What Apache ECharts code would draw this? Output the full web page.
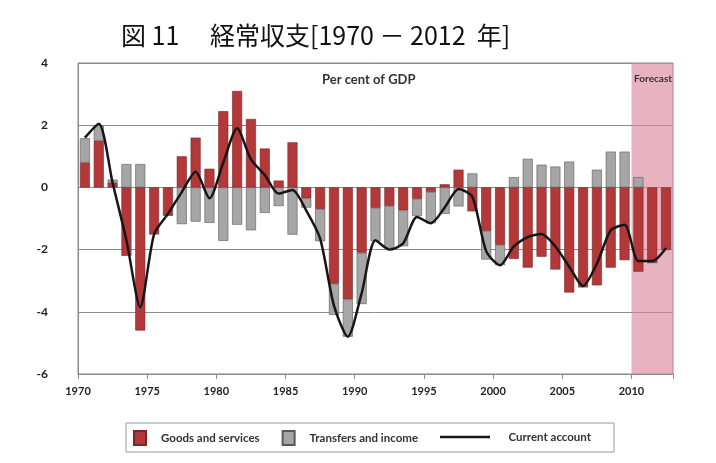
<!DOCTYPE html>
<html>
<head>
<meta charset="utf-8">
<script src="https://cdn.jsdelivr.net/npm/echarts@6/dist/echarts.min.js"></script>
<style>
  html, body { margin: 0; padding: 0; background: #fff; }
  #chart { width: 716px; height: 463px; }
</style>
</head>
<body>
<div id="chart"></div>
<script>
// years 1970-2012, per cent of GDP
const years = ['1970', '1971', '1972', '1973', '1974', '1975', '1976', '1977', '1978', '1979',
  '1980', '1981', '1982', '1983', '1984', '1985', '1986', '1987', '1988', '1989',
  '1990', '1991', '1992', '1993', '1994', '1995', '1996', '1997', '1998', '1999',
  '2000', '2001', '2002', '2003', '2004', '2005', '2006', '2007', '2008', '2009',
  '2010', '2011', '2012'];

const goodsServices = [0.8, 1.5, 0.15, -2.2, -4.6, -1.5, -0.9, 1.0, 1.6, 0.6,
  2.45, 3.1, 2.2, 1.25, 0.22, 1.45, -0.35, -0.7, -3.1, -3.6,
  -2.1, -0.66, -0.6, -0.74, -0.37, -0.15, 0.1, 0.57, -0.77, -1.4,
  -1.85, -2.3, -2.58, -2.23, -2.64, -3.38, -3.2, -3.15, -2.58, -2.34,
  -2.71, -2.42, -2.0];

const transfersIncome = [0.78, 0.5, 0.1, 0.75, 0.75, 0, 0, -1.18, -1.1, -1.14,
  -1.72, -1.2, -1.38, -0.82, -0.6, -1.52, -0.3, -1.03, -1.0, -1.2,
  -1.65, -1.07, -1.35, -1.15, -0.55, -1.0, -0.85, -0.61, 0.45, -0.92,
  -0.65, 0.33, 0.92, 0.73, 0.67, 0.83, 0, 0.57, 1.15, 1.15,
  0.33, 0, 0];

const currentAccount = [1.6, 2.05, 0.15, -1.7, -3.85, -1.5, -0.85, -0.15, 0.5, -0.35,
  0.8, 1.9, 0.9, 0.4, -0.2, -0.08, -0.75, -1.65, -3.8, -4.8,
  -3.4, -1.7, -2.0, -1.8, -0.95, -1.15, -0.65, -0.05, -0.3, -2.05,
  -2.5, -1.9, -1.6, -1.5, -1.9, -2.55, -3.17, -2.45, -1.38, -1.2,
  -2.37, -2.37, -1.95];

const yTicks = [-6, -4, -2, 0, 2, 4];
const forecastFrom = 2010;

const chart = echarts.init(document.getElementById('chart'));
const font = 'Lato, "Open Sans", sans-serif';
const axisGrey = '#8a8a8a';

const option = {
  backgroundColor: '#fff',
  animation: false,
  title: {
    text: '図 11　 経常収支[1970 － 2012  年]',
    left: 121,
    top: 23,
    padding: 0,
    textStyle: {
      fontFamily: '"Noto Sans CJK JP", sans-serif',
      fontSize: 25,
      fontWeight: 'normal',
      color: '#111',
    },
  },
  grid: {
    left: 78,
    right: 43,
    top: 63,
    bottom: 89,
    show: true,
    borderColor: axisGrey,
    borderWidth: 1,
  },
  legend: [
    {
      data: [
        { name: 'Goods and services', icon: 'rect' },
        { name: 'Transfers and income', icon: 'rect' },
      ],
      left: 128,
      top: 425,
      itemWidth: 12,
      itemHeight: 14,
      itemGap: 22,
      selectedMode: false,
      textStyle: { fontFamily: font, fontWeight: 'bold', fontSize: 11.5, color: '#333', padding: [0, 0, 0, 10] },
    },
    {
      data: [{ name: 'Current account', icon: 'path://M0,0H60V3H0Z' }],
      left: 435,
      top: 426,
      itemWidth: 57,
      itemHeight: 2.5,
      selectedMode: false,
      textStyle: { fontFamily: font, fontWeight: 'bold', fontSize: 11.5, color: '#333', padding: [0, 0, 0, 10] },
    },
  ],
  xAxis: [
    {
      // one slot per year, carries the marks
      type: 'category',
      data: years,
      boundaryGap: true,
      show: false,
    },
    {
      // year scale for ticks, labels and the forecast band
      type: 'value',
      min: 1970,
      max: 2013,
      interval: 5,
      position: 'bottom',
      axisLine: { show: true, lineStyle: { color: axisGrey, width: 1 } },
      axisTick: { show: true, length: 5, lineStyle: { color: axisGrey } },
      splitLine: { show: false },
      axisLabel: {
        margin: 12,
        fontFamily: font,
        fontWeight: 'bold',
        fontSize: 11,
        color: '#222',
        formatter: (v) => (v % 5 === 0 ? String(v) : ''),
      },
    },
  ],
  yAxis: {
    type: 'value',
    min: yTicks[0],
    max: yTicks[yTicks.length - 1],
    interval: 2,
    axisLine: { show: true, lineStyle: { color: axisGrey, width: 1 } },
    axisTick: { show: false },
    splitLine: { show: true, lineStyle: { color: '#8c8c8c', width: 1 } },
    axisLabel: {
      margin: 30,
      fontFamily: font,
      fontWeight: 'bold',
      fontSize: 12,
      color: '#222',
    },
  },
  series: [
    {
      name: 'forecast',
      type: 'line',
      xAxisIndex: 1,
      data: [],
      z: 1,
      silent: true,
      markArea: {
        silent: true,
        itemStyle: { color: 'rgba(220, 135, 158, 0.64)' },
        data: [[{ xAxis: forecastFrom }, { xAxis: 2013 }]],
      },
    },
    {
      name: 'Goods and services',
      type: 'bar',
      stack: 'ca',
      barWidth: 10,
      data: goodsServices,
      itemStyle: { color: '#b3383a', borderColor: '#7d2527', borderWidth: 0.6 },
      z: 2,
    },
    {
      name: 'Transfers and income',
      type: 'bar',
      stack: 'ca',
      barWidth: 10,
      data: transfersIncome,
      itemStyle: { color: '#a6a6a6', borderColor: '#5a5a5a', borderWidth: 0.6 },
      z: 2,
    },
    {
      name: 'Current account',
      type: 'line',
      data: currentAccount,
      symbol: 'none',
      smooth: 0.25,
      lineStyle: { color: '#161616', width: 2.5 },
      itemStyle: { color: '#161616' },
      z: 5,
    },
  ],
  graphic: [
    {
      type: 'rect',
      shape: { x: 126, y: 423, width: 488, height: 29 },
      style: { fill: 'none', stroke: '#9a9a9a', lineWidth: 1 },
      z: 0,
    },
    {
      type: 'text',
      left: 322,
      top: 73,
      style: { text: 'Per cent of GDP', fontFamily: font, fontWeight: 'bold', fontSize: 13, fill: '#333' },
    },
    {
      type: 'text',
      right: 44,
      top: 74,
      style: { text: 'Forecast', fontFamily: font, fontWeight: 'bold', fontSize: 10, fill: '#333' },
      z: 10,
    },
  ],
};

chart.setOption(option);
</script>
</body>
</html>
